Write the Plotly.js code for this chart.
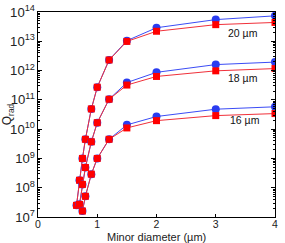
<!DOCTYPE html>
<html><head><meta charset="utf-8">
<script src="https://cdn.plot.ly/plotly-3.0.1.min.js"></script>
<style>html,body{margin:0;padding:0;background:#fff}#c{width:285px;height:243px}</style>
</head><body><div id="c"></div>
<script>
const x20 = [0.65, 0.7, 0.75, 0.8, 0.9, 1.0, 1.2, 1.5, 2, 3, 4];
const red20 = [2.5e7, 1.8e8, 1.0e9, 4.5e9, 4.9e10, 2.7e11, 2.3e12, 9.9e12, 2.2e13, 3.7e13, 4.4e13];
const blue20 = [2.5e7, 1.8e8, 1.0e9, 4.5e9, 4.9e10, 2.7e11, 2.3e12, 1.05e13, 2.9e13, 5.5e13, 7.4e13];
const x18 = [0.7, 0.75, 0.8, 0.9, 1.0, 1.2, 1.5, 2, 3, 4];
const red18 = [2.7e7, 1.3e8, 4.9e8, 3.7e9, 1.66e10, 1.05e11, 3.2e11, 6.3e11, 9.8e11, 1.17e12];
const blue18 = [2.7e7, 1.3e8, 4.9e8, 3.7e9, 1.66e10, 1.05e11, 3.9e11, 8.7e11, 1.6e12, 1.95e12];
const x16 = [0.75, 0.8, 0.9, 1.0, 1.2, 1.5, 2, 3, 4];
const red16 = [1.6e7, 5.1e7, 2.9e8, 1.0e9, 4.5e9, 1.1e10, 1.95e10, 2.9e10, 3.4e10];
const blue16 = [1.6e7, 5.1e7, 2.9e8, 1.0e9, 4.5e9, 1.4e10, 2.7e10, 4.8e10, 5.8e10];
const seriesLabels = ['20 µm', '18 µm', '16 µm'];
const labelX = [3.17, 3.17, 3.2];
const labelY = [1.9e13, 5.5e11, 2.05e10];
const xTitle = 'Minor diameter (µm)';

const blueStyle = {mode:'lines+markers', line:{color:'#3b4cf5', width:1}, marker:{symbol:'circle', size:8, color:'#2a3cf0'}};
const redStyle = {mode:'lines+markers', line:{color:'#f0303a', width:1}, marker:{symbol:'square', size:7, color:'#ff0000'}};
const traces = [];
[[x20,blue20,red20],[x18,blue18,red18],[x16,blue16,red16]].forEach(([x,b,r])=>{
  traces.push(Object.assign({x:x, y:b, type:'scatter'}, blueStyle));
  traces.push(Object.assign({x:x, y:r, type:'scatter'}, redStyle));
});
traces.push({x:[0,4], y:[1e7,1e14], yaxis:'y2', mode:'markers', marker:{opacity:0}, hoverinfo:'skip'});

const fnt = {family:'Liberation Sans, Arial, sans-serif', size:10, color:'#222'};
const annotations = seriesLabels.map((t,i)=>({x:labelX[i], y:Math.log10(labelY[i]), text:t, showarrow:false, xanchor:'left', yanchor:'middle', font:{family:fnt.family, size:10.5, color:'#111'}}));
annotations.push({xref:'paper', yref:'paper', x:0.5, y:0, yanchor:'top', xanchor:'center', yshift:-12, text:xTitle, showarrow:false, font:{family:fnt.family, size:11, color:'#222'}});

const layout = {
  width:285, height:243, margin:{l:38, r:10, t:12, b:26},
  showlegend:false, paper_bgcolor:'#fff', plot_bgcolor:'#fff',
  font: fnt,
  xaxis:{range:[0,4], tickvals:[0,1,2,3,4], ticks:'inside', ticklen:3, tickcolor:'#000', ticklabelstandoff:-3, showline:true, mirror:true, linecolor:'#000', linewidth:1, showgrid:false, zeroline:false, tickfont:{size:10.5}},
  yaxis:{type:'log', range:[7,14], dtick:1, exponentformat:'power', showexponent:'all', ticks:'inside', ticklen:4, tickcolor:'#000', showline:true, mirror:true, linecolor:'#000', linewidth:1, showgrid:false, zeroline:false, tickfont:{size:10.5},
    minor:{ticks:'inside', ticklen:2, tickcolor:'#000', dtick:'D1', showgrid:false},
    title:{text:'Q<sub>rad</sub>', font:{size:12}, standoff:2}},
  yaxis2:{type:'log', range:[7,14], overlaying:'y', side:'right', dtick:1, showticklabels:false, ticks:'inside', ticklen:4, tickcolor:'#000', showgrid:false, zeroline:false,
    minor:{ticks:'inside', ticklen:2, tickcolor:'#000', dtick:'D1', showgrid:false}},
  annotations: annotations
};
Plotly.newPlot('c', traces, layout, {staticPlot:true, displayModeBar:false});
</script></body></html>
